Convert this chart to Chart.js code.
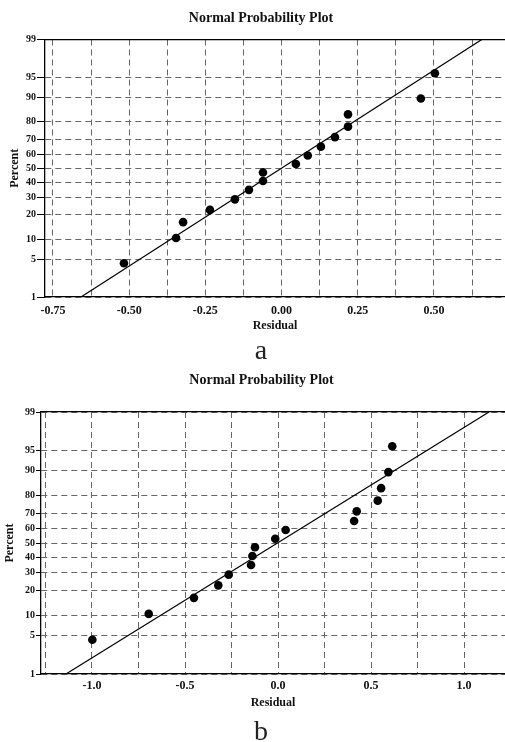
<!DOCTYPE html>
<html>
<head>
<meta charset="utf-8">
<script src="https://cdn.jsdelivr.net/npm/chart.js@4.4.0/dist/chart.umd.min.js"></script>
<style>
  body { margin: 0; background: #fff; width: 505px; height: 742px; overflow: hidden; position: relative; }
  canvas { position: absolute; left: 0; }
  .tag { position: absolute; left: 0; width: 522px; text-align: center; font: 28px/28px "Liberation Serif", serif; color: #222; }
</style>
</head>
<body>
<canvas id="plotA" width="505" height="340" style="top:0px"></canvas>
<div class="tag" style="top:336px">a</div>
<canvas id="plotB" width="505" height="352" style="top:360px"></canvas>
<div class="tag" style="top:717px">b</div>

<script>
// percent axis ticks (normal probability scale)
const percentTicks = [1, 5, 10, 20, 30, 40, 50, 60, 70, 80, 90, 95, 99];
// plotting positions of the 16 points, same for both plots
const pointPercents = [4.3, 10.4, 16.5, 22.6, 28.7, 34.8, 40.9, 47.0, 53.0, 59.1, 65.2, 71.3, 77.4, 83.5, 89.6, 95.7];

// plot a
const residualsA = [-0.517, -0.346, -0.323, -0.235, -0.153, -0.107, -0.061, -0.061, 0.047, 0.086, 0.129, 0.175, 0.218, 0.218, 0.457, 0.503];
const fitResidualsA = [-0.658, 0.657];
const xTicksA = [-0.75, -0.625, -0.5, -0.375, -0.25, -0.125, 0, 0.125, 0.25, 0.375, 0.5, 0.625];
const xLabelsA = ['-0.75', '', '-0.50', '', '-0.25', '', '0.00', '', '0.25', '', '0.50', ''];

// plot b
const residualsB = [-0.998, -0.695, -0.452, -0.321, -0.265, -0.145, -0.138, -0.124, -0.015, 0.041, 0.409, 0.423, 0.536, 0.554, 0.593, 0.614];
const fitResidualsB = [-1.14, 1.134];
const xTicksB = [-1.25, -1, -0.75, -0.5, -0.25, 0, 0.25, 0.5, 0.75, 1];
const xLabelsB = ['', '-1.0', '', '-0.5', '', '0.0', '', '0.5', '', '1.0'];

const fitPercents = [1, 99];

// inverse of the standard normal cdf (Acklam)
function normInv(p) {
  const a = [-3.969683028665376e+01, 2.209460984245205e+02, -2.759285104469687e+02, 1.383577518672690e+02, -3.066479806614716e+01, 2.506628277459239e+00];
  const b = [-5.447609879822406e+01, 1.615858368580409e+02, -1.556989798598866e+02, 6.680131188771972e+01, -1.328068155288572e+01];
  const c = [-7.784894002430293e-03, -3.223964580411365e-01, -2.400758277161838e+00, -2.549732539343734e+00, 4.374664141464968e+00, 2.938163982698783e+00];
  const d = [7.784695709041462e-03, 3.224671290700398e-01, 2.445134137142996e+00, 3.754408661907416e+00];
  const pl = 0.02425;
  let q, r;
  if (p < pl) {
    q = Math.sqrt(-2 * Math.log(p));
    return (((((c[0]*q+c[1])*q+c[2])*q+c[3])*q+c[4])*q+c[5]) / ((((d[0]*q+d[1])*q+d[2])*q+d[3])*q+1);
  }
  if (p > 1 - pl) {
    q = Math.sqrt(-2 * Math.log(1 - p));
    return -(((((c[0]*q+c[1])*q+c[2])*q+c[3])*q+c[4])*q+c[5]) / ((((d[0]*q+d[1])*q+d[2])*q+d[3])*q+1);
  }
  q = p - 0.5;
  r = q * q;
  return (((((a[0]*r+a[1])*r+a[2])*r+a[3])*r+a[4])*r+a[5])*q / (((((b[0]*r+b[1])*r+b[2])*r+b[3])*r+b[4])*r+1);
}
const z = pct => normInv(pct / 100);

const serif = '"Liberation Serif", "Times New Roman", serif';

// no side padding from the x axes, the plot runs to the right edge
const noSidePad = s => { s.paddingLeft = 0; s.paddingRight = 0; };

function makePlot(id, residuals, fitResiduals, xTicks, xLabels, lay) {
  const ctx = document.getElementById(id).getContext('2d');
  const H = ctx.canvas.height;
  const titleLh = 14 * 1.2;
  const axisLh = 12 * 1.2;

  return new Chart(ctx, {
    type: 'scatter',
    data: {
      datasets: [
        {
          data: residuals.map((r, i) => ({ x: r, y: z(pointPercents[i]) })),
          backgroundColor: '#000',
          borderWidth: 0,
          pointRadius: 4.3
        },
        {
          data: fitResiduals.map((r, i) => ({ x: r, y: z(fitPercents[i]) })),
          showLine: true,
          borderColor: '#000',
          borderWidth: 1.2,
          pointRadius: 0
        }
      ]
    },
    options: {
      responsive: false,
      animation: false,
      devicePixelRatio: 1,
      layout: { autoPadding: false, padding: { left: lay.padLeft, right: 0, top: 0, bottom: 0 } },
      plugins: {
        legend: { display: false },
        tooltip: { enabled: false },
        title: {
          display: true,
          text: 'Normal Probability Plot',
          color: '#111',
          font: { family: serif, size: 14, weight: 'bold' },
          padding: { top: lay.titleY - titleLh / 2, bottom: lay.top - lay.titleY - titleLh / 2 }
        }
      },
      scales: {
        x: {
          type: 'linear',
          position: 'bottom',
          min: lay.xMin,
          max: lay.xMax,
          afterBuildTicks: axis => { axis.ticks = xTicks.map(v => ({ value: v })); },
          afterFit: s => { s.height = H - lay.bottom; noSidePad(s); },
          ticks: {
            autoSkip: false,
            maxRotation: 0,
            padding: lay.xTickPad,
            color: '#111',
            font: { family: serif, size: 12, weight: 'bold' },
            callback: (v, i) => xLabels[i]
          },
          grid: { color: '#666', drawTicks: false },
          border: { color: '#000', width: 1.3, dash: [6, 4] },
          title: {
            display: true,
            text: 'Residual',
            color: '#111',
            font: { family: serif, size: 12, weight: 'bold' },
            padding: { top: 0, bottom: H - lay.residualY - axisLh / 2 }
          }
        },
        x2: {
          type: 'linear',
          position: 'top',
          min: lay.xMin,
          max: lay.xMax,
          afterFit: s => { s.height = 0; noSidePad(s); },
          ticks: { display: false },
          grid: { display: false, drawTicks: false },
          border: { display: true, color: '#000', width: 1.3 }
        },
        y: {
          type: 'linear',
          min: z(1),
          max: z(99),
          afterBuildTicks: axis => { axis.ticks = percentTicks.map(p => ({ value: z(p) })); },
          afterFit: s => { s.width = lay.left - lay.padLeft; },
          ticks: {
            autoSkip: false,
            padding: 1,
            color: '#111',
            font: { family: serif, size: 10, weight: 'bold' },
            callback: (v, i) => String(percentTicks[i])
          },
          grid: { color: '#666', tickColor: '#000', tickBorderDash: [], tickLength: lay.tickLen, tickWidth: 1 },
          border: { color: '#000', width: 1.3, dash: [6, 4] },
          title: {
            display: true,
            text: 'Percent',
            color: '#111',
            font: { family: serif, size: 12, weight: 'bold' },
            padding: { top: lay.percentX - lay.padLeft - axisLh / 2, bottom: 0 }
          }
        }
      }
    }
  });
}

makePlot('plotA', residualsA, fitResidualsA, xTicksA, xLabelsA, {
  left: 45, top: 39.5, bottom: 297, padLeft: 17,
  titleY: 18, residualY: 326, percentX: 15,
  xMin: -0.776, xMax: 0.733, xTickPad: 7, tickLen: 8
});

makePlot('plotB', residualsB, fitResidualsB, xTicksB, xLabelsB, {
  left: 41, top: 52, bottom: 314, padLeft: 18,
  titleY: 20.5, residualY: 343, percentX: 10,
  xMin: -1.274, xMax: 1.22, xTickPad: 5, tickLen: 5
});
</script>
</body>
</html>
